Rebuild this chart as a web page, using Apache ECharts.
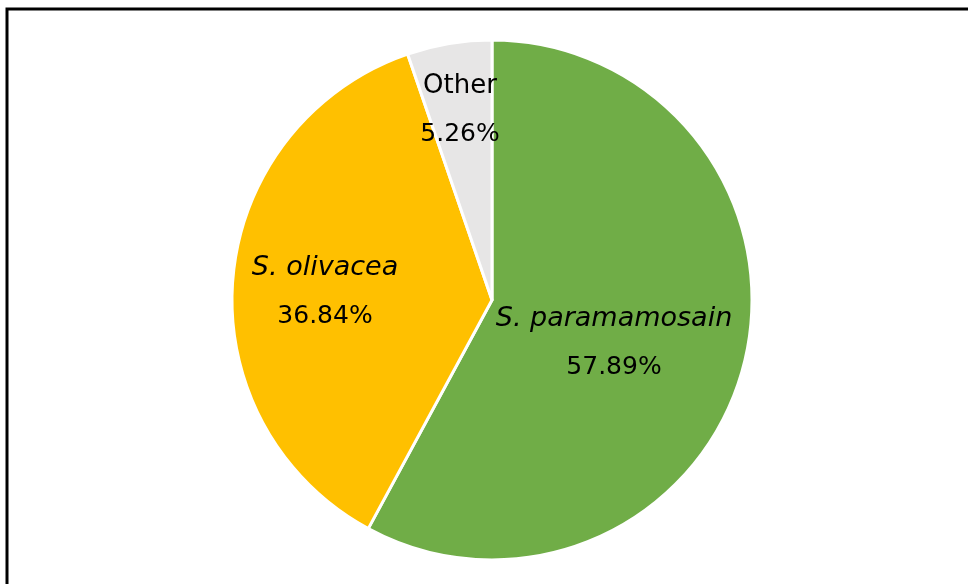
<!DOCTYPE html>
<html>
<head>
<meta charset="utf-8">
<script src="https://cdn.jsdelivr.net/npm/echarts@6/dist/echarts.min.js"></script>
<style>
  html, body { margin: 0; padding: 0; background: #fff; }
  #chart { width: 968px; height: 584px; }
</style>
</head>
<body>
<div id="chart"></div>
<script>
// Species composition (share of samples, %)
const categories = ['S. paramamosain', 'S. olivacea', 'Other'];
const shares = [57.89, 36.84, 5.26];
const italicName = [true, true, false];

const sliceColors = ['#70AD47', '#FFC000', '#E7E6E6'];
// label block centres inside each slice
const labelCentres = [[614, 343], [325, 292], [460, 110]];

const chart = echarts.init(document.getElementById('chart'));

const font = '"DejaVu Sans", "Noto Sans", sans-serif';

chart.setOption({
  animation: false,
  backgroundColor: '#ffffff',
  graphic: [{
    type: 'rect',
    shape: { x: 7, y: 9, width: 1000, height: 620 },
    style: { fill: 'none', stroke: '#000000', lineWidth: 3 },
    z: 10
  }],
  series: [{
    type: 'pie',
    center: [492, 300],
    radius: [0, 260],
    startAngle: 90,
    clockwise: true,
    avoidLabelOverlap: false,
    itemStyle: { borderColor: '#ffffff', borderWidth: 3 },
    label: {
      show: true,
      position: 'inside',
      color: '#000000',
      fontFamily: font,
      formatter: (p) => {
        const nameStyle = italicName[p.dataIndex] ? 'it' : 'nm';
        return '{' + nameStyle + '|' + p.name + '}\n{v|' + shares[p.dataIndex].toFixed(2) + '%}';
      },
      rich: {
        it: { fontSize: 27, fontStyle: 'italic', fontFamily: font, color: '#000', lineHeight: 48 },
        nm: { fontSize: 26, fontFamily: font, color: '#000', lineHeight: 48 },
        v: { fontSize: 25, fontFamily: font, color: '#000', lineHeight: 48 }
      }
    },
    labelLayout: (params) => ({
      x: labelCentres[params.dataIndex][0],
      y: labelCentres[params.dataIndex][1],
      align: 'center',
      verticalAlign: 'middle'
    }),
    labelLine: { show: false },
    emphasis: { disabled: true },
    data: categories.map((name, i) => ({
      name: name,
      value: shares[i],
      itemStyle: { color: sliceColors[i] }
    }))
  }]
});
</script>
</body>
</html>
